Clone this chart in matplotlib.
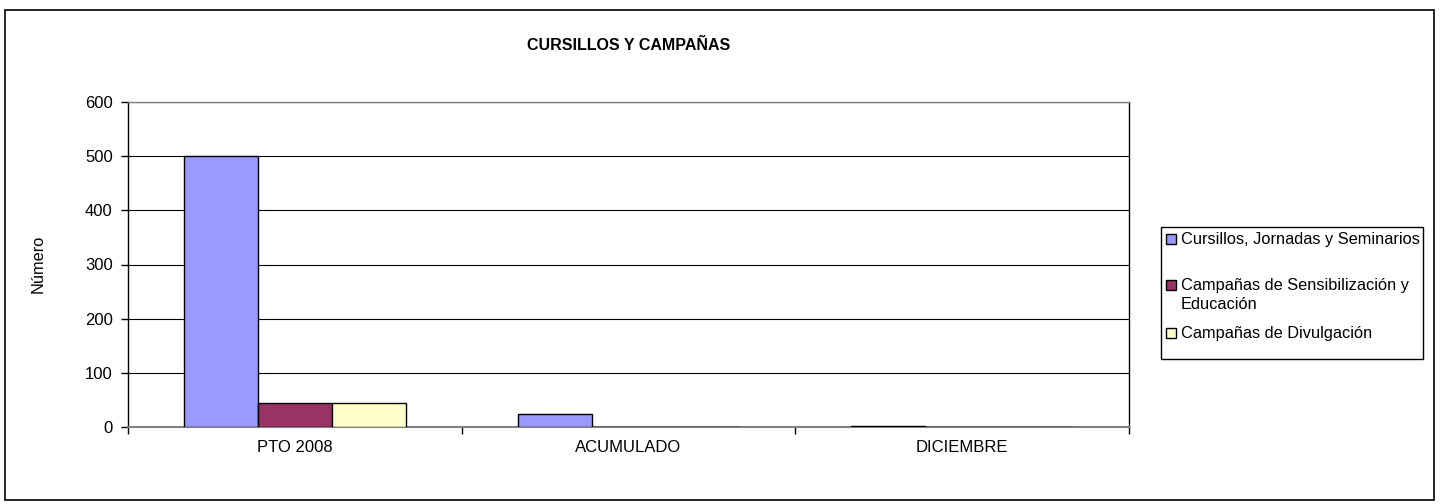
import matplotlib
matplotlib.use("Agg")
import matplotlib.pyplot as plt
from matplotlib.patches import Rectangle
import numpy as np

plt.rcParams['font.family'] = ['Liberation Sans', 'DejaVu Sans']

categories = ["PTO 2008", "ACUMULADO", "DICIEMBRE"]
series_names = ["Cursillos, Jornadas y Seminarios",
                "Campañas de Sensibilización y\nEducación",
                "Campañas de Divulgación"]
series_values = [
    [500, 24, 1],
    [45, 0, 0],
    [45, 0, 0],
]
series_colors = ["#9999FF", "#993366", "#FFFFCC"]
y_ticks = [0, 100, 200, 300, 400, 500, 600]

W, H = 1442, 504
fig = plt.figure(figsize=(W / 100, H / 100), dpi=100)

def fx(px):
    return px / W

def fy(py):
    return 1 - py / H

# outer chart frame
fig.patches.append(Rectangle((fx(5), fy(500)), fx(1434) - fx(5), fy(10) - fy(500),
                             transform=fig.transFigure, fill=False,
                             edgecolor="black", linewidth=1.2))

left, right, top, bottom = 128, 1129, 102, 427
ax = fig.add_axes([fx(left), fy(bottom), fx(right) - fx(left), fy(top) - fy(bottom)])

x = np.arange(len(categories))
bw = 74 / 334
for i, (vals, col) in enumerate(zip(series_values, series_colors)):
    ax.bar(x + (i - 1) * bw, vals, width=bw, color=col, edgecolor="black",
           linewidth=1.0, zorder=3)

ax.set_xlim(-0.5, len(categories) - 0.5)
ax.set_ylim(0, 600)
ax.set_yticks(y_ticks)
ax.set_yticklabels([str(v) for v in y_ticks], fontsize=12)
ax.yaxis.grid(True, color="black", linewidth=0.8, zorder=0)
ax.set_axisbelow(True)

ax.set_xticks(x)
ax.set_xticklabels(categories, fontsize=12)
ax.tick_params(axis='x', length=0, pad=9)
ax.set_xticks(np.arange(len(categories) + 1) - 0.5, minor=True)
ax.tick_params(axis='x', which='minor', length=5, width=1, color="black")
ax.tick_params(axis='y', length=5, width=1, pad=6)

for s in ["left", "right"]:
    ax.spines[s].set_color("black")
    ax.spines[s].set_linewidth(1.0)
ax.spines["top"].set_color("#808080")
ax.spines["top"].set_linewidth(1.0)
ax.spines["bottom"].set_color("#808080")
ax.spines["bottom"].set_linewidth(1.5)

fig.text(fx(629), fy(46), "CURSILLOS Y CAMPAÑAS", fontsize=11.5, fontweight="bold",
         ha="center", va="center")
fig.text(fx(38), fy(264), "Número", fontsize=11.8, rotation=90, ha="center", va="center")

# legend box
lx0, ly0, lx1, ly1 = 1161, 227, 1423, 359
fig.patches.append(Rectangle((fx(lx0), fy(ly1)), fx(lx1) - fx(lx0), fy(ly0) - fy(ly1),
                             transform=fig.transFigure, fill=True, facecolor="white",
                             edgecolor="black", linewidth=1.0))
entry_y = [239, 285, 333]
for name, col, ey in zip(series_names, series_colors, entry_y):
    fig.patches.append(Rectangle((fx(1166), fy(ey + 5)), fx(1176) - fx(1166), fy(ey - 5) - fy(ey + 5),
                                 transform=fig.transFigure, facecolor=col,
                                 edgecolor="black", linewidth=1.0))
    fig.text(fx(1181), fy(ey - 7), name, fontsize=11.8, ha="left", va="top",
             linespacing=1.3)

fig.savefig("out.png", dpi=100)
